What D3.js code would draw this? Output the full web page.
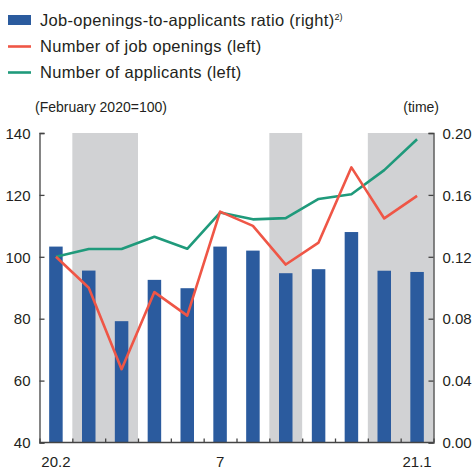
<!DOCTYPE html>
<html><head><meta charset="utf-8">
<script src="https://cdn.jsdelivr.net/npm/d3@7"></script>
<style>body{margin:0;background:#fff}svg{display:block}text{font-family:"Liberation Sans",Arial,sans-serif;fill:#231f20}</style>
</head><body><svg id="c" width="474" height="469"></svg>
<script>
const months = ["20.2","3","4","5","6","7","8","9","10","11","12","21.1"];
const tickLabels = {"20.2":"20.2","7":"7","21.1":"21.1"};
const ratio = [0.1266,0.1111,0.0784,0.1051,0.0997,0.1266,0.1240,0.1094,0.1120,0.1360,0.1110,0.1102];
const openings = [100,90.0,63.7,88.6,81.0,114.6,110.0,97.5,104.6,128.9,112.4,119.7];
const applicants = [100,102.5,102.5,106.5,102.6,114.3,112.1,112.5,118.7,120.2,128.0,138.0];
const shaded = [["3","4"],["9","9"],["12","21.1"]];
const leftTicks = [40,60,80,100,120,140];
const rightTicks = [0,0.04,0.08,0.12,0.16,0.20];

const svg = d3.select("#c");
const L = 39.5, R = 433.5, T = 133, B = 442.5;
const x = d3.scaleBand().domain(months).range([L, R]).padding(0);
const yL = d3.scaleLinear().domain([40,140]).range([B, T]);
const yR = d3.scaleLinear().domain([0,0.20]).range([B, T]);
const cx = m => x(m) + x.bandwidth()/2;

// shading
svg.append("g").selectAll("rect").data(shaded).join("rect")
  .attr("x", d => x(d[0])).attr("y", T)
  .attr("width", d => x(d[1]) + x.bandwidth() - x(d[0])).attr("height", B - T)
  .attr("fill", "#d1d2d4");

// bars
const bw = 13.5;
svg.append("g").selectAll("rect").data(months).join("rect")
  .attr("x", (m) => cx(m) - bw/2).attr("y", (m,i) => yR(ratio[i]))
  .attr("width", bw).attr("height", (m,i) => B - yR(ratio[i]))
  .attr("fill", "#2b5b9e");

// lines
const line = d3.line().x((d,i) => cx(months[i])).y(d => yL(d));
svg.append("path").datum(applicants).attr("d", line).attr("fill","none")
  .attr("stroke","#1f9a7b").attr("stroke-width",2.6).attr("stroke-linejoin","round");
svg.append("path").datum(openings).attr("d", line).attr("fill","none")
  .attr("stroke","#ef5646").attr("stroke-width",2.6).attr("stroke-linejoin","round");

// axes
const axisColor = "#444";
const gl = svg.append("g").attr("transform", `translate(${L},0)`)
  .call(d3.axisRight(yL).tickValues(leftTicks).tickSize(5).tickFormat(d3.format("d")));
gl.selectAll("text").attr("x", -9).attr("text-anchor","end");
const gr = svg.append("g").attr("transform", `translate(${R},0)`)
  .call(d3.axisLeft(yR).tickValues(rightTicks).tickSize(5).tickFormat(d3.format(".2f")));
gr.selectAll("text").attr("x", 9).attr("text-anchor","start");
const gb = svg.append("g").attr("transform", `translate(0,${B})`)
  .call(d3.axisTop(d3.scaleLinear().domain([0,12]).range([L,R])).tickValues(d3.range(0,13)).tickSize(4).tickFormat(""));
[gl,gr,gb].forEach(g => {
  g.select(".domain").attr("stroke", axisColor).attr("stroke-width",1.3);
  g.selectAll(".tick line").attr("stroke", axisColor).attr("stroke-width",1.3);
  g.selectAll("text").style("font-size","15px").attr("fill","#231f20").style("font-family",'"Liberation Sans",Arial,sans-serif');
});
gl.selectAll("text").attr("dy","0.35em");
gr.selectAll("text").attr("dy","0.35em");
gb.select(".domain").attr("d", `M${L},0H${R}`);

// bottom labels
svg.append("g").selectAll("text").data(months.filter(m => tickLabels[m])).join("text")
  .attr("x", m => cx(m)).attr("y", 467).attr("text-anchor","middle")
  .style("font-size","15px").text(m => tickLabels[m]);

// unit labels
svg.append("text").attr("x", 35).attr("y", 112).style("font-size","14px").text("(February 2020=100)");
svg.append("text").attr("x", 439).attr("y", 112).attr("text-anchor","end").style("font-size","14px").text("(time)");

// legend
const lg = svg.append("g").style("letter-spacing","0.3px");
lg.append("rect").attr("x",8).attr("y",15).attr("width",23).attr("height",10).attr("fill","#2b5b9e");
const t1 = lg.append("text").attr("x",40).attr("y",26).style("font-size","16.5px");
t1.append("tspan").text("Job-openings-to-applicants ratio (right)");
t1.append("tspan").attr("dy",-6).style("font-size","9px").style("letter-spacing","0px").text("2)");
lg.append("line").attr("x1",8).attr("x2",31).attr("y1",46.5).attr("y2",46.5).attr("stroke","#ef5646").attr("stroke-width",2.6);
lg.append("text").attr("x",40).attr("y",52).style("font-size","16.5px").text("Number of job openings (left)");
lg.append("line").attr("x1",8).attr("x2",31).attr("y1",72.5).attr("y2",72.5).attr("stroke","#1f9a7b").attr("stroke-width",2.6);
lg.append("text").attr("x",40).attr("y",78).style("font-size","16.5px").text("Number of applicants (left)");
</script></body></html>
